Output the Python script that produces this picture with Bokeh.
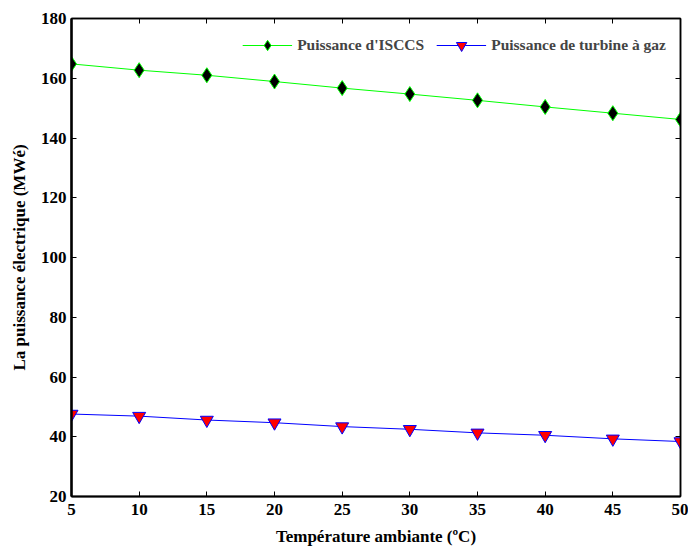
from bokeh.plotting import figure
from bokeh.models import LinearAxis, FixedTicker, Range1d, Legend, LegendItem
from bokeh.embed import file_html
from bokeh.resources import INLINE

temperature = [5, 10, 15, 20, 25, 30, 35, 40, 45, 50]
isccs_power = [164.8, 162.7, 161.0, 158.9, 156.7, 154.7, 152.6, 150.4, 148.3, 146.2]
gt_power = [47.6, 46.9, 45.6, 44.7, 43.4, 42.5, 41.3, 40.5, 39.3, 38.4]
x_ticks = [5, 10, 15, 20, 25, 30, 35, 40, 45, 50]
y_ticks = [20, 40, 60, 80, 100, 120, 140, 160, 180]

FONT = "Liberation Serif"

p = figure(width=688, height=548, output_backend="svg", toolbar_location=None,
           x_range=Range1d(5, 50), y_range=Range1d(20, 180),
           min_border_left=71, min_border_right=8, min_border_top=18, min_border_bottom=52)
p.xaxis.visible = False
p.yaxis.visible = False
p.grid.visible = False
p.outline_line_color = "black"
p.outline_line_width = 1.5

def style_axis(ax):
    ax.major_tick_in = 5
    ax.major_tick_out = 0
    ax.minor_tick_in = 0
    ax.minor_tick_out = 0
    ax.axis_line_color = "black"
    ax.major_tick_line_color = "black"
    ax.axis_line_width = 1.5
    ax.major_label_text_font = FONT
    ax.major_label_text_font_style = "bold"
    ax.major_label_text_font_size = "17px"
    ax.major_label_text_color = "black"
    ax.axis_label_text_font = FONT
    ax.axis_label_text_font_style = "bold"
    ax.axis_label_text_font_size = "17px"
    ax.axis_label_text_color = "black"

xb = LinearAxis(ticker=FixedTicker(ticks=x_ticks), axis_label="Température ambiante (ºC)")
style_axis(xb)
xb.axis_line_width = 2
xb.major_label_standoff = 7
xb.axis_label_standoff = 9
p.add_layout(xb, "below")

yl = LinearAxis(ticker=FixedTicker(ticks=y_ticks), axis_label="La puissance électrique (MWé)")
style_axis(yl)
yl.axis_line_width = 2.5
yl.major_label_standoff = 5
yl.axis_label_standoff = 9
p.add_layout(yl, "left")

xa = LinearAxis(ticker=FixedTicker(ticks=x_ticks),
                major_label_overrides={t: "" for t in x_ticks})
style_axis(xa)
xa.major_label_standoff = 0
p.add_layout(xa, "above")
yr = LinearAxis(ticker=FixedTicker(ticks=y_ticks),
                major_label_overrides={t: "" for t in y_ticks})
style_axis(yr)
yr.major_label_standoff = 0
p.add_layout(yr, "right")

l1 = p.line(temperature, isccs_power, line_color="#00ff00", line_width=1)
m1 = p.scatter(temperature, isccs_power, marker="diamond", size=15,
               fill_color="black", line_color="#00ff00", line_width=1)
l2 = p.line(temperature, gt_power, line_color="blue", line_width=1)
m2 = p.scatter(temperature, gt_power, marker="inverted_triangle", size=13,
               fill_color="red", line_color="blue", line_width=1)

legend = Legend(items=[
    LegendItem(label="Puissance d'ISCCS", renderers=[l1, m1]),
    LegendItem(label="Puissance de turbine à gaz", renderers=[l2, m2]),
], orientation="horizontal", location="top_right")
legend.label_text_font = FONT
legend.label_text_font_style = "bold"
legend.label_text_font_size = "15.5px"
legend.border_line_alpha = 0
legend.background_fill_alpha = 0
legend.glyph_width = 50
legend.glyph_height = 26
legend.label_height = 26
legend.spacing = 12
legend.margin = 6
legend.padding = 8
p.add_layout(legend)

open("out.html", "w").write(file_html(p, INLINE))
